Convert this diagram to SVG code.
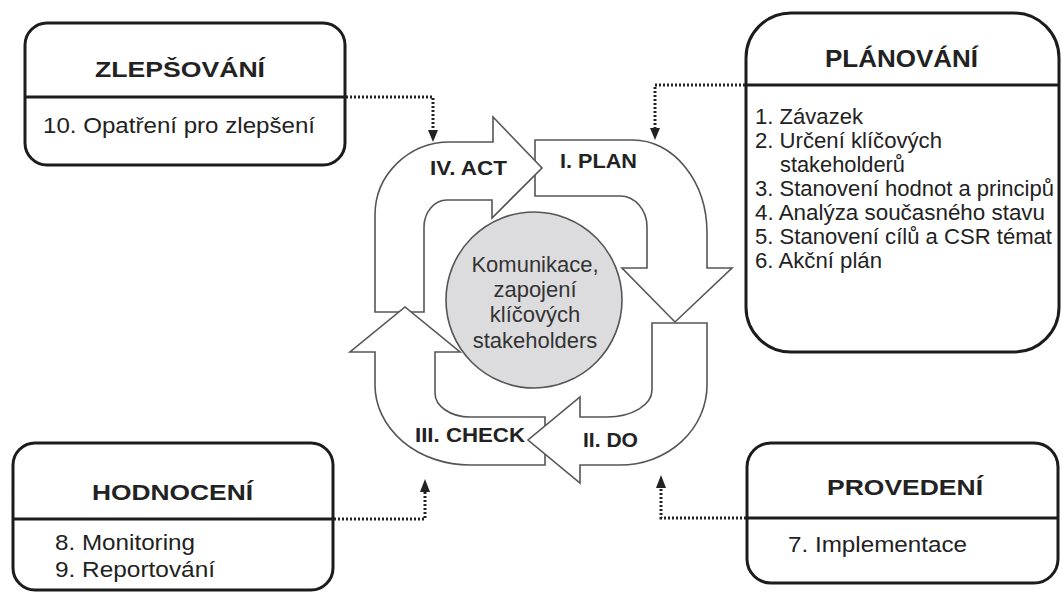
<svg xmlns="http://www.w3.org/2000/svg" width="1062" height="592" viewBox="0 0 1062 592">
<defs>
<style>
.box{fill:#fff;stroke:#1c1c1c;stroke-width:3}
.div{stroke:#1c1c1c;stroke-width:3}
.t{font-family:"Liberation Sans",Arial,sans-serif;fill:#222}
.title{font-size:22px;font-weight:bold}
.body{font-size:22px}
.lbl{font-size:21px;font-weight:bold}
.ctr{font-size:22px;text-anchor:middle;fill:#333}
.arr{fill:#fff;stroke:#555;stroke-width:1.6;stroke-linejoin:miter}
.dot{fill:none;stroke:#222;stroke-width:3;stroke-dasharray:2 2}
.head{fill:#222}
</style>
</defs>
<rect width="1062" height="592" fill="#fff"/>

<g id="cycle">
  <path id="plan-arrow" class="arr" d="M535,140 H633 A74,93 0 0 1 707,233 V268 H732 L675,322 L622,268 H647 V227 A27,31 0 0 0 620,196 H535 Z"/>
  <path id="act-arrow" class="arr" d="M375,312 V215 A75,73 0 0 1 450,142 H493 V117 L542,168 L492,218 V200 H447 A23,27 0 0 0 424,227 V312 Z"/>
  <path id="check-arrow" class="arr" d="M545,417 H470 A35,24 0 0 1 435,393 V352 H460 L405,307 L350,352 H375 V385 A95,80 0 0 0 470,465 H545 Z"/>
  <path id="do-arrow" class="arr" d="M652,323 H707 V385 A87,80 0 0 1 620,465 H580 V483 L528,440 L580,397 V417 H607 A45,27 0 0 0 652,390 Z"/>
  <text class="t lbl" x="430" y="175" textLength="77" lengthAdjust="spacingAndGlyphs">IV. ACT</text>
  <text class="t lbl" x="560" y="168" textLength="77" lengthAdjust="spacingAndGlyphs">I. PLAN</text>
  <text class="t lbl" x="415" y="442" textLength="110" lengthAdjust="spacingAndGlyphs">III. CHECK</text>
  <text class="t lbl" x="583" y="447" textLength="55" lengthAdjust="spacingAndGlyphs">II. DO</text>
</g>

<g id="center">
  <circle cx="534" cy="300" r="88" fill="#dcdcde" stroke="#555" stroke-width="1.6"/>
  <text class="t ctr" x="535" y="272">Komunikace,</text>
  <text class="t ctr" x="535" y="297">zapojení</text>
  <text class="t ctr" x="535" y="322">klíčových</text>
  <text class="t ctr" x="535" y="348">stakeholders</text>
</g>

<g id="connectors">
  <path class="dot" d="M346,97 H433 V131"/>
  <polygon class="head" points="428,130 438,130 433,142"/>
  <path class="dot" d="M745,85 H655 V129"/>
  <polygon class="head" points="650,128 660,128 655,140"/>
  <path class="dot" d="M334,519 H425 V491"/>
  <polygon class="head" points="420,492 430,492 425,479"/>
  <path class="dot" d="M746,518 H661 V487"/>
  <polygon class="head" points="656,488 666,488 661,475"/>
</g>

<g id="zlepsovani">
  <rect class="box" x="25" y="23" width="320" height="142" rx="22" ry="22"/>
  <line class="div" x1="25" y1="97" x2="345" y2="97"/>
  <text class="t title" x="95" y="77" textLength="170" lengthAdjust="spacingAndGlyphs">ZLEPŠOVÁNÍ</text>
  <text class="t body" x="43" y="133" textLength="272" lengthAdjust="spacingAndGlyphs">10. Opatření pro zlepšení</text>
</g>

<g id="planovani">
  <rect class="box" x="746" y="13" width="313" height="339" rx="45" ry="45"/>
  <line class="div" x1="746" y1="85" x2="1059" y2="85"/>
  <text class="t title" x="825" y="67" textLength="153" lengthAdjust="spacingAndGlyphs" style="font-size:23px">PLÁNOVÁNÍ</text>
  <text class="t body" x="755" y="124" textLength="108" lengthAdjust="spacingAndGlyphs">1. Závazek</text>
  <text class="t body" x="755" y="148" textLength="187" lengthAdjust="spacingAndGlyphs">2. Určení klíčových</text>
  <text class="t body" x="780" y="172" textLength="125" lengthAdjust="spacingAndGlyphs">stakeholderů</text>
  <text class="t body" x="755" y="196" textLength="299" lengthAdjust="spacingAndGlyphs">3. Stanovení hodnot a principů</text>
  <text class="t body" x="755" y="220" textLength="290" lengthAdjust="spacingAndGlyphs">4. Analýza současného stavu</text>
  <text class="t body" x="755" y="244" textLength="297" lengthAdjust="spacingAndGlyphs">5. Stanovení cílů a CSR témat</text>
  <text class="t body" x="755" y="268" textLength="127" lengthAdjust="spacingAndGlyphs">6. Akční plán</text>
</g>

<g id="hodnoceni">
  <rect class="box" x="13" y="443" width="320" height="147" rx="22" ry="22"/>
  <line class="div" x1="13" y1="519" x2="333" y2="519"/>
  <text class="t title" x="92" y="500" textLength="161" lengthAdjust="spacingAndGlyphs">HODNOCENÍ</text>
  <text class="t body" x="55" y="550" textLength="140" lengthAdjust="spacingAndGlyphs">8. Monitoring</text>
  <text class="t body" x="55" y="577" textLength="160" lengthAdjust="spacingAndGlyphs">9. Reportování</text>
</g>

<g id="provedeni">
  <rect class="box" x="747" y="443" width="311" height="140" rx="24" ry="24"/>
  <line class="div" x1="747" y1="518" x2="1058" y2="518"/>
  <text class="t title" x="827" y="495" textLength="156" lengthAdjust="spacingAndGlyphs">PROVEDENÍ</text>
  <text class="t body" x="788" y="552" textLength="179" lengthAdjust="spacingAndGlyphs">7. Implementace</text>
</g>
</svg>
